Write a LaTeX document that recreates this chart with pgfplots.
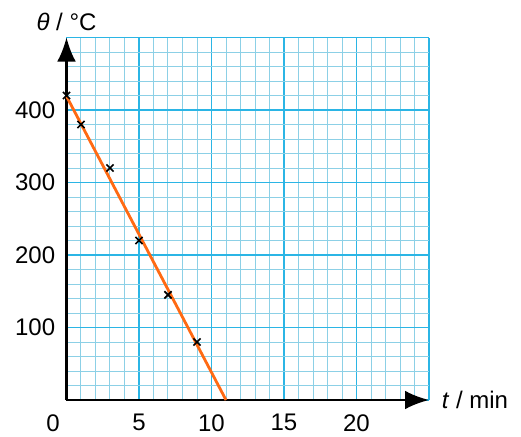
\documentclass[border=0pt]{standalone}
\usepackage{fontspec}
\setmainfont{Liberation Sans}
\usepackage{pgfplots}
\pgfplotsset{compat=1.18}
\usetikzlibrary{arrows.meta}
\definecolor{gmaj}{HTML}{2BB5E5}
\definecolor{gmin}{HTML}{8CD0E6}
\definecolor{lineor}{HTML}{FF6A13}
\begin{document}
\begin{tikzpicture}
\path[use as bounding box] (-49.875pt,-27pt) rectangle (340.875pt,300pt);
\begin{axis}[
  at={(0pt,0pt)}, anchor=origin,
  scale only axis,
  width=271.875pt, height=271.875pt,
  xmin=0, xmax=25, ymin=0, ymax=500,
  axis x line=bottom, axis y line=left,
  axis line style={black, line width=1.7pt, -{Latex[length=18pt,width=14pt]}},
  xtick={0,5,10,15,20,25}, xticklabels={,5,10,15,20,},
  ytick={0,100,200,300,400,500}, yticklabels={,100,200,300,400,},
  minor xtick={1,2,3,4,6,7,8,9,11,12,13,14,16,17,18,19,21,22,23,24},
  minor ytick={20,40,60,80,120,140,160,180,220,240,260,280,320,340,360,380,420,440,460,480},
  grid=both,
  every major grid/.style={draw=gmaj, line width=1pt},
  every minor grid/.style={draw=gmin, line width=0.75pt},
  major tick length=0pt, minor tick length=0pt,
  /pgf/number format/assume math mode=true,
  tick label style={font=\fontsize{18}{21}\selectfont, inner sep=0pt},
  xticklabel style={anchor=north, yshift=-10.5pt},
  yticklabel style={anchor=east, xshift=-8.3pt},
  clip=false,
]
\addplot[lineor, line width=2.1pt] coordinates {(0,419) (11,0)};
\addplot[only marks, mark=x, mark size=3.8pt, black, mark options={line width=1.2pt}] coordinates {
(0,420) (1,380) (3,320) (5,220) (7,145) (9,80)};
\node[font=\fontsize{18}{21}\selectfont, inner sep=0pt, anchor=north, xshift=-10.1pt, yshift=-10.5pt] at (axis cs:0,0) {0};
\node[font=\fontsize{18}{21}\selectfont, inner sep=0pt, anchor=base] at ([yshift=276.75pt]axis cs:0,0) {\textit{θ} / °C};
\node[font=\fontsize{18}{21}\selectfont, inner sep=0pt, anchor=base west] at ([xshift=281.3pt,yshift=-6pt]axis cs:0,0) {\textit{t} / min};
\end{axis}
\end{tikzpicture}
\end{document}
